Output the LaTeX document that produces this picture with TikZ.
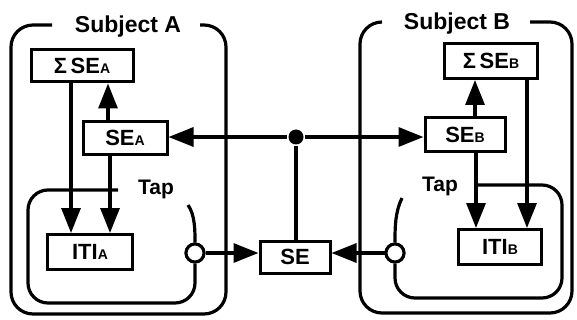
\documentclass[tikz,border=0pt]{standalone}
\usepackage{fontspec}
\setmainfont{Liberation Sans}
\usetikzlibrary{arrows.meta}
\newcommand\subsc[1]{{\fontsize{14pt}{14pt}\selectfont #1}}
\begin{document}
\begin{tikzpicture}[x=1pt,y=-1pt,line width=3.2pt,
  box/.style={draw,rectangle,inner sep=0pt,fill=white,line width=3pt,
    font=\bfseries\fontsize{22pt}{22pt}\selectfont},
  arr/.style={-{Triangle[length=25pt,width=19pt]}},
  ttl/.style={font=\bfseries\fontsize{23pt}{23pt}\selectfont,anchor=base,inner sep=0pt},
  tap/.style={font=\bfseries\fontsize{21pt}{21pt}\selectfont,anchor=base,inner sep=0pt},
  tapc/.style={circle,draw,fill=white,inner sep=0pt,minimum size=18pt,line width=3pt},
  frame/.style={rounded corners=22pt}]
\useasboundingbox (0,0) rectangle (577,320);

% outer frames
\draw[frame] (52,25) -- (11,25) -- (11,314) -- (226,314) -- (226,25) -- (200,25);
\draw[frame] (382,22) -- (360,22) -- (360,313) -- (572,313) -- (572,22) -- (530,22);
\node[ttl] (tA) at (128,33) {Subject A};
\node[ttl] (tB) at (457,30) {Subject B};

% nodes
\node[box,minimum width=102pt,minimum height=32pt] (sA) at (82,66) {Σ\,SE\subsc{A}};
\node[box,minimum width=84pt,minimum height=33pt] (seA) at (125,138) {SE\subsc{A}};
\node[box,minimum width=85pt,minimum height=35pt] (itiA) at (90,252) {ITI\subsc{A}};
\node[box,minimum width=70pt,minimum height=32pt] (se) at (295,257) {SE};
\node[box,minimum width=80pt,minimum height=34pt] (seB) at (465,135) {SE\subsc{B}};
\node[box,minimum width=93pt,minimum height=35pt] (sB) at (491,61) {Σ\,SE\subsc{B}};
\node[box,minimum width=83pt,minimum height=35pt] (itiB) at (500,247) {ITI\subsc{B}};

\node[circle,fill,inner sep=0pt,minimum size=15pt] (j) at (296,137) {};
\node[tapc] (cA) at (195,253) {};
\node[tapc] (cB) at (395,253) {};

% inner (tap) frames
\draw[rounded corners=20pt] (118,190) -- (28,190) -- (28,303) -- (195,303) -- (cA.south);
\draw (188,205) .. controls (195,215) and (195,230) .. (cA.north);
\draw[rounded corners=20pt] (476,185) -- (562,185) -- (562,298) -- (395,298) -- (cB.south);
\draw (402,198) .. controls (395,212) and (395,228) .. (cB.north);
\node[tap] (tapA) at (156,195) {Tap};
\node[tap] (tapB) at (440,192) {Tap};
\node[tapc] at (cA) {};
\node[tapc] at (cB) {};

% connectors
\draw[arr] (seA.north -| 108,0) -- (sA.south -| 108,0);
\draw[arr] (sA.south -| 71,0) -- (itiA.north -| 71,0);
\draw[arr] (seA.south -| 110,0) -- (itiA.north -| 110,0);
\draw[arr] (j) -- (j -| seA.east);
\draw[arr] (j) -- (j -| seB.west);
\draw (j) -- (se.north -| j);
\draw[arr] (cA) -- (cA -| se.west);
\draw[arr] (cB) -- (cB -| se.east);
\draw[arr] (seB.north -| 475,0) -- (sB.south -| 475,0);
\draw[arr] (sB.south -| 527,0) -- (itiB.north -| 527,0);
\draw[arr] (seB.south -| 476,0) -- (itiB.north -| 476,0);
\end{tikzpicture}
\end{document}
